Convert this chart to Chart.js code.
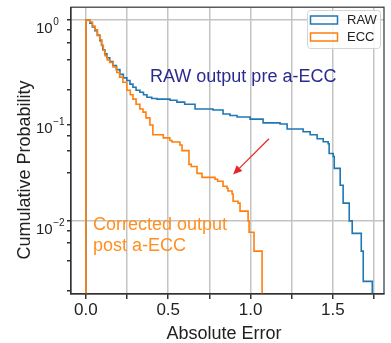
<!DOCTYPE html>
<html>
<head>
<meta charset="utf-8">
<script src="https://cdn.jsdelivr.net/npm/chart.js@4.4.0/dist/chart.umd.min.js"></script>
<style>
  html, body { margin: 0; padding: 0; background: #fff; }
  #wrap { width: 391px; height: 343px; }
</style>
</head>
<body>
<div id="wrap"><canvas id="cdf" width="391" height="343"></canvas></div>
<script>
// ===== DATA =====
// step curves: level p holds from x until the next x
const rawX = [0, 0, 0.024, 0.04, 0.055, 0.07, 0.085, 0.095, 0.103, 0.115, 0.128, 0.145, 0.164, 0.185, 0.207, 0.228, 0.249, 0.268, 0.286, 0.305, 0.328, 0.35, 0.371, 0.40, 0.432, 0.511, 0.553, 0.60, 0.663, 0.772, 0.833, 0.875, 0.918, 0.997, 1.076, 1.179, 1.222, 1.319, 1.362, 1.404, 1.441, 1.471, 1.477, 1.502, 1.508, 1.544, 1.562, 1.599, 1.617, 1.672, 1.684, 1.739];
const rawP = [0.0001, 1.0, 0.93, 0.85, 0.78, 0.70, 0.62, 0.56, 0.506, 0.46, 0.42, 0.385, 0.352, 0.32, 0.287, 0.265, 0.25, 0.23, 0.214, 0.20, 0.191, 0.18, 0.17, 0.165, 0.163, 0.159, 0.152, 0.145, 0.13, 0.127, 0.116, 0.112, 0.108, 0.103, 0.0945, 0.092, 0.082, 0.077, 0.072, 0.0657, 0.0614, 0.0586, 0.0468, 0.0437, 0.0333, 0.0226, 0.015, 0.010, 0.0075, 0.005, 0.0025, 0.0001];

const eccX = [0, 0, 0.024, 0.04, 0.055, 0.07, 0.085, 0.097, 0.106, 0.116, 0.13, 0.146, 0.165, 0.188, 0.205, 0.225, 0.249, 0.27, 0.286, 0.305, 0.328, 0.347, 0.365, 0.389, 0.407, 0.47, 0.51, 0.523, 0.571, 0.584, 0.626, 0.64, 0.675, 0.705, 0.784, 0.80, 0.833, 0.857, 0.863, 0.888, 0.894, 0.924, 0.936, 0.985, 0.991, 1.021, 1.07];
const eccP = [0.0001, 1.0, 0.955, 0.87, 0.80, 0.71, 0.635, 0.555, 0.50, 0.44, 0.40, 0.377, 0.34, 0.30, 0.27, 0.24, 0.20, 0.18, 0.163, 0.145, 0.13, 0.121, 0.106, 0.090, 0.072, 0.067, 0.063, 0.061, 0.057, 0.050, 0.0365, 0.0348, 0.0297, 0.0271, 0.026, 0.0248, 0.0221, 0.0211, 0.0198, 0.0185, 0.0157, 0.015, 0.0125, 0.010, 0.0077, 0.005, 0.0001];

const seriesLabels = ["RAW", "ECC"];
const xTicks = [0, 0.25, 0.5, 0.75, 1.0, 1.25, 1.5, 1.75];
const xTickLabels = ["0.0", "", "0.5", "", "1.0", "", "1.5", ""];
const yDecades = [0, -1, -2];

const FONT = "'Liberation Sans', Arial, sans-serif";
const BLUE = "#1f77b4";
const ORANGE = "#ff7f0e";

function toPoints(xs, ps) {
  return xs.map((x, i) => ({ x: x, y: ps[i] }));
}

function isDecade(v) {
  const l = Math.log10(v);
  return Math.abs(l - Math.round(l)) < 1e-9;
}

// ===== OVERLAY: labels, titles, arrow, legend, frame =====
const overlay = {
  id: "overlay",
  afterDatasetsDraw(chart) {
    const ctx = chart.ctx;
    const a = chart.chartArea;
    const xs = chart.scales.x;
    const ys = chart.scales.y;

    ctx.save();
    // frame (top/right spines)
    ctx.strokeStyle = "#333";
    ctx.lineWidth = 1.2;
    ctx.strokeRect(a.left, a.top, a.right - a.left, a.bottom - a.top);

    // y tick labels 10^k
    ctx.fillStyle = "#222";
    ctx.textBaseline = "alphabetic";
    ctx.textAlign = "left";
    yDecades.forEach(d => {
      const py = ys.getPixelForValue(Math.pow(10, d));
      const sup = d < 0 ? "\u2212" + Math.abs(d) : String(d);
      ctx.font = "15px " + FONT;
      const baseW = ctx.measureText("10").width;
      ctx.fillText("10", 36, py + 13);
      ctx.font = "10px " + FONT;
      ctx.fillText(sup, 36 + baseW + 0.5, py + 5);
    });

    // axis titles
    ctx.font = "18px " + FONT;
    ctx.textAlign = "center";
    ctx.fillText("Absolute Error", 224, 339);
    ctx.save();
    ctx.translate(30, 170);
    ctx.rotate(-Math.PI / 2);
    ctx.fillText("Cumulative Probability", 0, 0);
    ctx.restore();

    // annotations
    ctx.textAlign = "left";
    ctx.fillStyle = "#2b2b8f";
    ctx.fillText("RAW output pre a-ECC", 150, 82);
    ctx.fillStyle = "#ff8f1f";
    ctx.fillText("Corrected output", 93, 230);
    ctx.fillText("post a-ECC", 93, 251);

    // red arrow
    const x0 = xs.getPixelForValue(1.112), y0 = ys.getPixelForValue(0.0657);
    const x1 = xs.getPixelForValue(0.894), y1 = ys.getPixelForValue(0.029);
    const ang = Math.atan2(y1 - y0, x1 - x0);
    const hl = 9, hw = 4;
    ctx.strokeStyle = "#e8262a";
    ctx.fillStyle = "#e8262a";
    ctx.lineWidth = 1.2;
    ctx.beginPath();
    ctx.moveTo(x0, y0);
    ctx.lineTo(x1 - hl * Math.cos(ang), y1 - hl * Math.sin(ang));
    ctx.stroke();
    ctx.beginPath();
    ctx.moveTo(x1, y1);
    ctx.lineTo(x1 - hl * Math.cos(ang) + hw * Math.sin(ang), y1 - hl * Math.sin(ang) - hw * Math.cos(ang));
    ctx.lineTo(x1 - hl * Math.cos(ang) - hw * Math.sin(ang), y1 - hl * Math.sin(ang) + hw * Math.cos(ang));
    ctx.closePath();
    ctx.fill();

    // legend
    const lx = 307, ly = 10, lw = 73, lh = 38;
    ctx.fillStyle = "rgba(255,255,255,0.85)";
    ctx.strokeStyle = "#d4d4d4";
    ctx.lineWidth = 1;
    ctx.beginPath();
    ctx.roundRect(lx + 0.5, ly + 0.5, lw, lh, 3);
    ctx.fill();
    ctx.stroke();
    chart.data.datasets.forEach((ds, i) => {
      const cy = 20 + i * 17;
      ctx.strokeStyle = ds.borderColor;
      ctx.lineWidth = 1.5;
      ctx.strokeRect(310.5, cy - 4, 27, 8);
      ctx.fillStyle = "#222";
      ctx.font = "13px " + FONT;
      ctx.textAlign = "left";
      ctx.textBaseline = "middle";
      ctx.fillText(ds.label, 347, cy + 0.5);
    });
    ctx.restore();
  }
};

new Chart(document.getElementById("cdf"), {
  type: "line",
  data: {
    datasets: [
      {
        label: seriesLabels[0],
        data: toPoints(rawX, rawP),
        borderColor: BLUE,
        borderWidth: 1.6,
        stepped: "before",
        pointRadius: 0,
        order: 1
      },
      {
        label: seriesLabels[1],
        data: toPoints(eccX, eccP),
        borderColor: ORANGE,
        borderWidth: 1.6,
        stepped: "before",
        pointRadius: 0,
        order: 0
      }
    ]
  },
  options: {
    responsive: false,
    devicePixelRatio: 1,
    animation: false,
    layout: { padding: { top: 4, right: 7, left: 0, bottom: 0 } },
    plugins: {
      legend: { display: false },
      tooltip: { enabled: false }
    },
    scales: {
      x: {
        type: "linear",
        min: -0.09,
        max: 1.81,
        afterFit: s => { s.height = 49; },
        afterBuildTicks: s => { s.ticks = xTicks.map(v => ({ value: v })); },
        ticks: {
          autoSkip: false,
          maxRotation: 0,
          padding: 1,
          color: "#222",
          font: { family: FONT, size: 17 },
          callback: (v) => xTickLabels[xTicks.indexOf(v)] || ""
        },
        grid: { color: "#c4c4c4", lineWidth: 1.5, tickColor: "#333", tickLength: 5 },
        border: { color: "#333", width: 1.2 }
      },
      y: {
        type: "logarithmic",
        min: 0.00187,
        max: 1.34,
        afterFit: s => { s.width = 71; },
        afterBuildTicks: s => {
          const t = [];
          for (let e = -3; e <= 0; e++) {
            for (let m = 1; m <= 9; m++) {
              const v = m * Math.pow(10, e);
              if (v >= s.min && v <= s.max) t.push({ value: v });
            }
          }
          s.ticks = t;
        },
        ticks: { callback: () => "", padding: 0 },
        grid: {
          color: c => (c.tick && isDecade(c.tick.value) ? "#c4c4c4" : "rgba(0,0,0,0)"),
          lineWidth: 1.5,
          tickColor: "#333",
          tickLength: 4
        },
        border: { color: "#333", width: 1.2 }
      }
    }
  },
  plugins: [overlay]
});
</script>
</body>
</html>
